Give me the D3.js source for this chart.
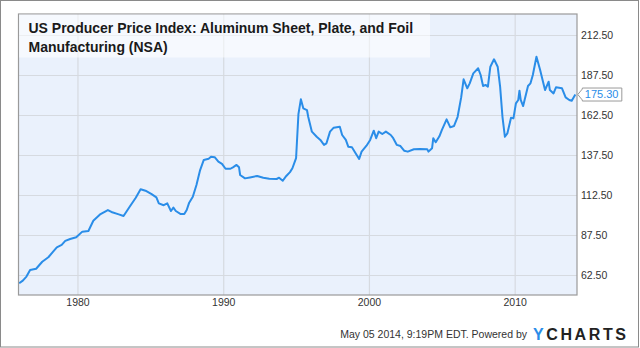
<!DOCTYPE html>
<html>
<head>
<meta charset="utf-8">
<script src="https://cdn.jsdelivr.net/npm/d3@7"></script>
<style>
  html, body { margin: 0; padding: 0; background: #fff; }
  svg { display: block; font-family: "Liberation Sans", Arial, sans-serif; }
</style>
</head>
<body>
<svg id="chart" width="640" height="348"></svg>
<script>
const months = [
  "1976-01","1976-04","1976-07","1976-10","1977-03","1977-08","1978-01","1978-05","1978-08","1978-12",
  "1979-03","1979-07","1979-12","1980-05","1980-10","1981-02","1981-08","1982-02","1982-05","1982-11",
  "1983-03","1983-08","1984-01","1984-05","1984-09","1985-02","1985-06","1985-08","1985-12","1986-03",
  "1986-06","1986-08","1986-10","1987-02","1987-05","1987-07","1987-09","1987-12","1988-03","1988-06",
  "1988-09","1989-01","1989-03","1989-06","1989-09","1989-12","1990-03","1990-07","1990-09","1990-12",
  "1991-02","1991-03","1991-07","1991-11","1992-05","1992-10","1993-03","1993-09","1993-11","1994-02",
  "1994-05","1994-08","1994-10","1995-01","1995-03","1995-05","1995-07","1995-10","1995-11","1996-02",
  "1996-06","1996-09","1996-12","1997-02","1997-05","1997-08","1998-01","1998-03","1998-06","1998-08",
  "1998-11","1999-02","1999-05","1999-07","1999-11","2000-02","2000-05","2000-07","2000-09","2000-12",
  "2001-03","2001-07","2001-09","2001-12","2002-03","2002-06","2002-09","2003-02","2003-07","2004-01",
  "2004-02","2004-05","2004-06","2004-08","2004-11","2005-01","2005-05","2005-08","2005-11","2006-02",
  "2006-05","2006-07","2006-10","2006-12","2007-03","2007-07","2007-09","2007-11","2008-01","2008-03",
  "2008-05","2008-08","2008-11","2009-01","2009-03","2009-05","2009-07","2009-10","2009-12","2010-02",
  "2010-04","2010-05","2010-06","2010-08","2010-12","2011-02","2011-04","2011-07","2011-10","2012-01",
  "2012-02","2012-05","2012-06","2012-09","2012-11","2013-04","2013-07","2013-10","2013-12","2014-03"
];
const ppi = [
  57.3,59.0,61.5,65.6,66.4,70.8,73.6,77.1,79.8,81.3,
  83.8,85.0,86.1,89.6,90.0,96.4,100.6,103.1,101.9,100.4,
  99.4,105.2,110.8,116.1,115.2,113.0,111.0,107.3,106.1,107.3,
  102.5,104.6,102.5,100.6,100.6,103.1,107.7,111.4,118.8,128.1,
  134.4,135.2,136.4,136.1,133.3,131.9,128.9,128.9,129.8,131.3,
  129.8,125.0,122.9,123.5,124.4,123.3,122.7,122.5,123.3,121.4,
  124.4,126.8,129.2,135.5,163.0,172.3,166.7,165.6,161.4,152.1,
  148.9,146.9,143.8,144.8,152.1,154.6,155.2,150.0,146.9,142.7,
  142.3,138.6,135.0,139.6,143.3,146.9,152.7,148.0,152.1,150.6,
  152.1,150.0,148.0,143.8,143.1,140.2,139.6,141.1,141.3,141.1,
  139.6,141.7,148.0,145.5,149.2,153.1,159.8,154.8,155.6,161.4,
  173.5,184.8,179.2,182.3,188.5,191.7,187.5,180.6,181.3,180.2,
  192.7,197.3,192.7,180.2,161.4,148.9,151.0,160.8,160.4,169.8,
  171.9,177.7,171.9,168.1,180.6,182.3,187.5,198.9,190.6,181.3,
  178.1,183.3,178.1,176.0,179.8,179.2,173.5,171.9,171.4,175.3
];
const yTicks = [62.5, 87.5, 112.5, 137.5, 162.5, 187.5, 212.5];
const xTickYears = [1980, 1990, 2000, 2010];
const titleLines = ["US Producer Price Index: Aluminum Sheet, Plate, and Foil", "Manufacturing (NSA)"];
const lastLabel = "175.30";
const footerText = "May 05 2014, 9:19PM EDT.  Powered by";

const parse = d3.timeParse("%Y-%m");
const data = months.map((m, i) => ({ date: parse(m), value: ppi[i] }));

const svg = d3.select("#chart");
const plot = { left: 18.5, right: 577, top: 14, bottom: 295 };

// outer border
svg.append("rect").attr("x", 0.5).attr("y", 0.5).attr("width", 638).attr("height", 346.5)
  .attr("fill", "#fff").attr("stroke", "#8a8a8a");

const x = d3.scaleTime()
  .domain([new Date(1975, 11, 15), new Date(2014, 3, 12)])
  .range([plot.left, plot.right]);
const y = d3.scaleLinear().domain([50, 225.625]).range([plot.bottom, plot.top]);

// plot background
svg.append("rect").attr("x", plot.left).attr("y", plot.top)
  .attr("width", plot.right - plot.left).attr("height", plot.bottom - plot.top)
  .attr("fill", "#eaf1fc");

// gridlines via axes
const yGrid = svg.append("g").attr("transform", `translate(${plot.left},0)`)
  .call(d3.axisRight(y).tickValues(yTicks).tickSize(plot.right - plot.left).tickFormat(""));
yGrid.select(".domain").remove();
yGrid.selectAll("line").attr("stroke", "#d6dae0").attr("stroke-width", 1.2);

const xGrid = svg.append("g").attr("transform", `translate(0,${plot.top})`)
  .call(d3.axisBottom(x).tickValues(xTickYears.map(yr => new Date(yr, 0, 1)))
    .tickSize(plot.bottom - plot.top).tickFormat(""));
xGrid.select(".domain").remove();
xGrid.selectAll("line").attr("stroke", "#d6dae0").attr("stroke-width", 1.2);

// line
const line = d3.line().x(d => x(d.date)).y(d => y(d.value)).curve(d3.curveLinear);
svg.append("path").datum(data).attr("d", line)
  .attr("fill", "none").attr("stroke", "#2a8de8").attr("stroke-width", 2)
  .attr("stroke-linejoin", "round");

// plot border
svg.append("rect").attr("x", plot.left).attr("y", plot.top)
  .attr("width", plot.right - plot.left).attr("height", plot.bottom - plot.top)
  .attr("fill", "none").attr("stroke", "#9a9a9a").attr("stroke-width", 1.2);

// y axis labels
const yAxis = svg.append("g").attr("transform", `translate(${plot.right},0)`)
  .call(d3.axisRight(y).tickValues(yTicks).tickSize(0).tickPadding(4).tickFormat(d3.format(".2f")));
yAxis.select(".domain").remove();
yAxis.selectAll("text").attr("fill", "#333").style("font-size", "10.5px")
  .style("font-family", "'Liberation Sans', Arial, sans-serif");

// x axis labels
const xAxis = svg.append("g").attr("transform", `translate(0,${plot.bottom})`)
  .call(d3.axisBottom(x).tickValues(xTickYears.map(yr => new Date(yr, 0, 1)))
    .tickSize(0).tickPadding(4).tickFormat(d3.timeFormat("%Y")));
xAxis.select(".domain").remove();
xAxis.selectAll("text").attr("fill", "#333").style("font-size", "10.5px")
  .style("font-family", "'Liberation Sans', Arial, sans-serif");

// title box
svg.append("rect").attr("x", plot.left + 0.5).attr("y", plot.top + 0.5)
  .attr("width", 411).attr("height", 43).attr("fill", "#fff").attr("fill-opacity", 0.55);
const title = svg.append("text").attr("fill", "#1a1a1a")
  .style("font-size", "14px").style("font-weight", "bold");
titleLines.forEach((t, i) => {
  title.append("tspan").attr("x", 28.5).attr("y", 33 + i * 18.5).text(t);
});

// last value callout
const last = data[data.length - 1];
const cx = x(last.date) + 2.5, cy = y(last.value);
const cg = svg.append("g");
cg.append("path")
  .attr("d", `M${cx},${cy} L${cx + 4.5},${cy - 5.5} L${cx + 4.5},${cy - 6.5} L${cx + 44},${cy - 6.5} L${cx + 44},${cy + 6.5} L${cx + 4.5},${cy + 6.5} L${cx + 4.5},${cy + 5.5} Z`)
  .attr("fill", "#fff").attr("stroke", "#9a9a9a").attr("stroke-width", 1);
cg.append("text").attr("x", cx + 7).attr("y", cy).attr("dy", "0.35em")
  .attr("fill", "#2a8de8").style("font-size", "11px").text(lastLabel);

// footer
const footer = svg.append("text").attr("x", 527).attr("y", 338).attr("text-anchor", "end")
  .attr("fill", "#333").style("font-size", "10.5px").text(footerText);
const logo = svg.append("text").attr("x", 533).attr("y", 340)
  .style("font-size", "16px").style("font-weight", "bold").style("letter-spacing", "2.6px");
logo.append("tspan").attr("fill", "#2a8de8").text("Y");
logo.append("tspan").attr("fill", "#222").text("CHARTS");
</script>
</body>
</html>
